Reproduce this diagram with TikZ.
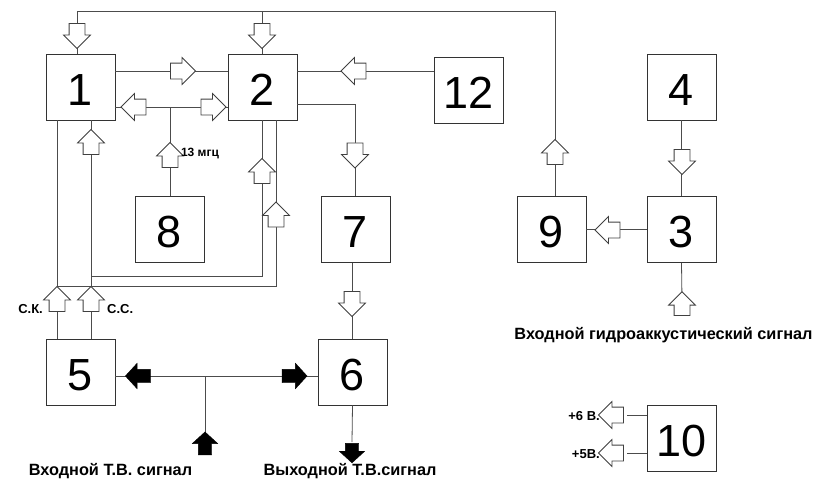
\documentclass[tikz,border=0pt]{standalone}
\usepackage{fontspec}
\setmainfont{Liberation Sans}
\usetikzlibrary{shapes.arrows}

\begin{document}
\begin{tikzpicture}[
	x=1pt, y=-1pt,
	block/.style={ draw, line width=0.9pt, black!80, text=black, inner sep=0pt, minimum width=69pt, minimum height=66pt, text height=36pt, text depth=0pt, font=\fontsize{45}{45}\selectfont },
	wire/.style={ line width=0.8pt, black!70 },
	harrow/.style={ single arrow, draw, line width=0.8pt, black!75, fill=white, inner sep=7.5pt, minimum height=25pt, single arrow head extend=5.5pt, single arrow tip angle=90 },
	barrow/.style={ single arrow, draw, fill=black, inner sep=6.5pt, minimum height=25pt, single arrow head extend=6pt, single arrow tip angle=95 },
	lbl/.style={ inner sep=0pt, font=\fontsize{16.3}{16.3}\selectfont\bfseries },
	slbl/.style={ inner sep=0pt, font=\fontsize{13}{13}\selectfont\bfseries }
]

\useasboundingbox (0,0) rectangle (823,482);

% blocks
\node at (80.5,87) (b1) [block] {1};
\node at (262.5,87) (b2) [block] {2};
\node at (468.5,90.5) (b12) [block] {12};
\node at (681.5,87) (b4) [block] {4};
\node at (169.5,229.5) (b8) [block] {8};
\node at (355.5,229.5) (b7) [block] {7};
\node at (551.5,229.5) (b9) [block] {9};
\node at (681.5,229.5) (b3) [block] {3};
\node at (80.5,372) (b5) [block] {5};
\node at (352.5,372) (b6) [block] {6};
\node at (681.5,438) (b10) [block] {10};

% bus points
\coordinate (ta) at (77,11);
\coordinate (tb) at (555,11);
\coordinate (js) at (91,276);
\coordinate (jk) at (57,286);
\coordinate (jq) at (170,107);
\coordinate (jt) at (205,376);
\coordinate (tvin) at (205,435);
\coordinate (tvout) at (352,442);
\coordinate (hydro) at (682,299);

% wires
\draw[wire] (b1.north -| ta) -- (ta) -- (tb) -- (b9.north -| tb);
\draw[wire] (b2.north) -- (b2.north |- ta);
\draw[wire] (b1.east |- 0,71) -- (b2.west |- 0,71);
\draw[wire] (b1.east |- jq) -- (b2.west |- jq);
\draw[wire] (b8.north -| jq) -- (jq);
\draw[wire] (b12.west |- 0,71) -- (b2.east |- 0,71);
\draw[wire] (b2.east |- 0,104) -| (b7.north);
\draw[wire] (b7.south -| b6.north) -- (b6.north);
\draw[wire] (b1.south -| js) -- (b5.north -| js);
\draw[wire] (b1.south -| jk) -- (b5.north -| jk);
\draw[wire] (js) -| (b2.south -| 262,0);
\draw[wire] (jk) -| (b2.south -| 276,0);
\draw[wire] (b5.east |- jt) -- (b6.west |- jt);
\draw[wire] (jt) -- (tvin);
\draw[wire] (b6.south) -- (tvout);
\draw[wire] (b3.west) -- (b9.east);
\draw[wire] (b4.south) -- (b3.north);
\draw[wire] (b3.south) -- (hydro);
\draw[wire] (b10.west |- 0,415) -- (627,415);
\draw[wire] (b10.west |- 0,453) -- (627,453);

% hollow arrows
\node at (77,32) (a1) [harrow, shape border rotate=270] {};
\node at (262,32) (a2) [harrow, shape border rotate=270] {};
\node at (179,71) (a12) [harrow] {};
\node at (137.5,107) (aq1) [harrow, shape border rotate=180] {};
\node at (209.5,107) (aq2) [harrow] {};
\node at (357.5,71) (a122) [harrow, shape border rotate=180] {};
\node at (355,151.5) (a27) [harrow, shape border rotate=270] {};
\node at (170,159) (a8) [harrow, shape border rotate=90] {};
\node at (91,146) (as1) [harrow, shape border rotate=90] {};
\node at (262,175) (as2) [harrow, shape border rotate=90] {};
\node at (276,218.5) (ak2) [harrow, shape border rotate=90] {};
\node at (57,303) (ak) [harrow, shape border rotate=90] {};
\node at (91,303) (as) [harrow, shape border rotate=90] {};
\node at (352,300) (a76) [harrow, shape border rotate=270] {};
\node at (555,156) (a9) [harrow, shape border rotate=90] {};
\node at (682,158) (a43) [harrow, shape border rotate=270] {};
\node at (611.5,230) (a39) [harrow, shape border rotate=180] {};
\node at (682,307.5) (ah) [harrow, shape border rotate=90, minimum height=18pt] {};
\node at (615,415) (a6v) [harrow, shape border rotate=180] {};
\node at (615,453) (a5v) [harrow, shape border rotate=180] {};

% black arrows
\node at (141,376) (bl) [barrow, shape border rotate=180] {};
\node at (291.5,376) (br) [barrow] {};
\node at (205,446.5) (bin) [barrow, shape border rotate=90, minimum height=23pt] {};
\node at (352,450) (bout) [barrow, shape border rotate=270, minimum height=17pt] {};

% labels
\node at (200,154) (f13) [slbl, font=\fontsize{12}{12}\selectfont\bfseries] {13 мгц};
\node at (43,309) (sk) [slbl, anchor=east] {С.К.};
\node at (107,309) (ss) [slbl, anchor=west] {С.С.};
\node at (600,416) (v6) [slbl, anchor=east] {+6 В.};
\node at (600,454) (v5) [slbl, anchor=east] {+5В.};
\node at (663.5,335) (hin) [lbl] {Входной гидроаккустический сигнал};
\node at (110.5,471) (tin) [lbl] {Входной Т.В. сигнал};
\node at (350,471) (tout) [lbl] {Выходной Т.В.сигнал};

\end{tikzpicture}
\end{document}
